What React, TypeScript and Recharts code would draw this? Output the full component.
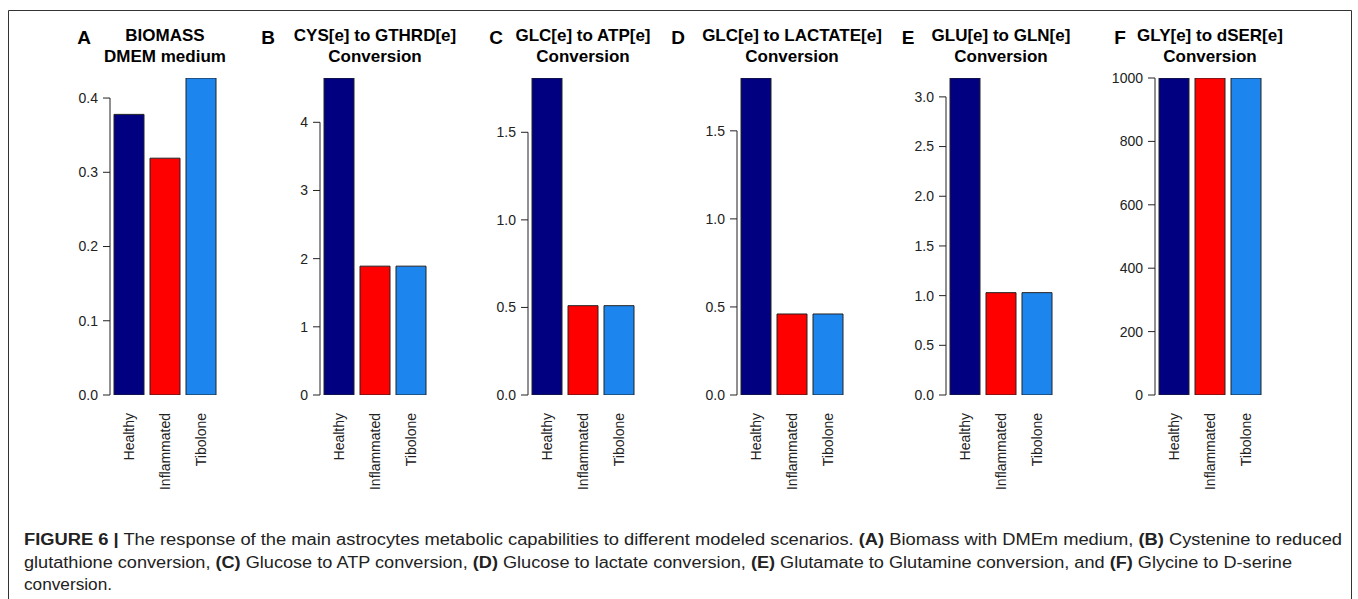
import { Bar, BarChart, Cell, XAxis, YAxis } from "recharts";

const categories = ["Healthy", "Inflammated", "Tibolone"];
const barColors = ["#000080", "#ff0000", "#1c86ee"];

const biomassValues = [0.378, 0.319, 0.427];
const cysToGthrdValues = [4.65, 1.89, 1.89];
const glcToAtpValues = [1.81, 0.51, 0.51];
const glcToLactateValues = [1.8, 0.46, 0.46];
const gluToGlnValues = [3.19, 1.03, 1.03];
const glyToDserValues = [1000, 1000, 1000];

const biomassTicks = [0, 0.1, 0.2, 0.3, 0.4];
const cysToGthrdTicks = [0, 1, 2, 3, 4];
const glcToAtpTicks = [0, 0.5, 1, 1.5];
const glcToLactateTicks = [0, 0.5, 1, 1.5];
const gluToGlnTicks = [0, 0.5, 1, 1.5, 2, 2.5, 3];
const glyToDserTicks = [0, 200, 400, 600, 800, 1000];

const panels = [
  { letter: "A", title: ["BIOMASS", "DMEM medium"], values: biomassValues, ticks: biomassTicks, decimals: 1 },
  { letter: "B", title: ["CYS[e] to GTHRD[e]", "Conversion"], values: cysToGthrdValues, ticks: cysToGthrdTicks, decimals: 0 },
  { letter: "C", title: ["GLC[e] to ATP[e]", "Conversion"], values: glcToAtpValues, ticks: glcToAtpTicks, decimals: 1 },
  { letter: "D", title: ["GLC[e] to LACTATE[e]", "Conversion"], values: glcToLactateValues, ticks: glcToLactateTicks, decimals: 1 },
  { letter: "E", title: ["GLU[e] to GLN[e]", "Conversion"], values: gluToGlnValues, ticks: gluToGlnTicks, decimals: 1 },
  { letter: "F", title: ["GLY[e] to dSER[e]", "Conversion"], values: glyToDserValues, ticks: glyToDserTicks, decimals: 0 },
];

const captionLines: [string, boolean][][] = [
  [
    ["FIGURE 6 |", true],
    [" The response of the main astrocytes metabolic capabilities to different modeled scenarios. ", false],
    ["(A)", true],
    [" Biomass with DMEm medium, ", false],
    ["(B)", true],
    [" Cystenine to reduced", false],
  ],
  [
    ["glutathione conversion, ", false],
    ["(C)", true],
    [" Glucose to ATP conversion, ", false],
    ["(D)", true],
    [" Glucose to lactate conversion, ", false],
    ["(E)", true],
    [" Glutamate to Glutamine conversion, and ", false],
    ["(F)", true],
    [" Glycine to D-serine", false],
  ],
  [["conversion.", false]],
];

// layout
const FONT = '"Liberation Sans", Arial, Helvetica, sans-serif';
const AXIS_X = [110, 320, 528, 737, 946, 1155];
const LETTER_X = [84, 268, 496, 678, 908, 1120];
const PLOT_TOP = 78;
const PLOT_H = 317;
const PLOT_W = 110;
const Y_AXIS_W = 60;
const X_AXIS_H = 110;
const CAPTION_Y = [545, 568, 590];
const CAPTION_W = [1318, 1268, 88];

function makeYTick(ticks: number[], max: number, decimals: number) {
  const last = ticks[ticks.length - 1];
  return (props: any) => {
    const { x, y, payload, index } = props;
    return (
      <g>
        <line x1={x - 7} x2={x} y1={y} y2={y} stroke="#222" strokeWidth={1} />
        {index === 0 && (
          <line x1={x} x2={x} y1={y} y2={y - (PLOT_H * last) / max} stroke="#222" strokeWidth={1} />
        )}
        <text x={x - 12} y={y} dy="0.35em" textAnchor="end" fontSize={14} fill="#222" fontFamily={FONT}>
          {Number(payload.value).toFixed(decimals)}
        </text>
      </g>
    );
  };
}

function XTick(props: any) {
  const { x, y, payload } = props;
  return (
    <text
      transform={`translate(${x},${y + 18}) rotate(-90)`}
      dy="0.35em"
      textAnchor="end"
      fontSize={14}
      fill="#222"
      fontFamily={FONT}
    >
      {payload.value}
    </text>
  );
}

function Panel({ index }: { index: number }) {
  const p = panels[index];
  const data = categories.map((name, i) => ({ name, value: p.values[i] }));
  const max = Math.max(...p.values);
  return (
    <div style={{ position: "absolute", left: AXIS_X[index] - Y_AXIS_W, top: 0 }}>
      <BarChart
        width={Y_AXIS_W + PLOT_W}
        height={PLOT_TOP + PLOT_H + X_AXIS_H}
        data={data}
        margin={{ top: PLOT_TOP, right: 0, bottom: 0, left: 0 }}
        barSize={30}
      >
        <XAxis
          dataKey="name"
          axisLine={false}
          tickLine={false}
          tickSize={0}
          tickMargin={0}
          height={X_AXIS_H}
          interval={0}
          padding={{ left: 1, right: 1 }}
          tick={<XTick />}
        />
        <YAxis
          type="number"
          domain={[0, max]}
          ticks={p.ticks}
          allowDataOverflow
          width={Y_AXIS_W}
          axisLine={false}
          tickLine={false}
          tickSize={0}
          tickMargin={0}
          interval={0}
          tick={makeYTick(p.ticks, max, p.decimals)}
        />
        <Bar dataKey="value" stroke="#222" strokeWidth={1} isAnimationActive={false}>
          {data.map((d, i) => (
            <Cell key={d.name} fill={barColors[i]} />
          ))}
        </Bar>
      </BarChart>
    </div>
  );
}

export default function App() {
  return (
    <div
      style={{
        position: "absolute",
        left: 0,
        top: 0,
        width: 1358,
        height: 599,
        background: "#fff",
        overflow: "hidden",
        fontFamily: FONT,
      }}
    >
      {panels.map((p, i) => (
        <Panel key={p.letter} index={i} />
      ))}
      <svg
        width={1358}
        height={599}
        style={{ position: "absolute", left: 0, top: 0, pointerEvents: "none" }}
      >
        <path d="M8.5,599 V10.5 H1351.5 V599" fill="none" stroke="#333" strokeWidth={1} />
        {panels.map((p, i) => {
          const cx = AXIS_X[i] + PLOT_W / 2;
          return (
            <g key={p.letter} fontFamily={FONT} fontWeight="bold" fill="#000">
              <text x={LETTER_X[i]} y={44} fontSize={19} textAnchor="middle">
                {p.letter}
              </text>
              <text x={cx} y={41} fontSize={17} textAnchor="middle">
                {p.title[0]}
              </text>
              <text x={cx} y={62} fontSize={17} textAnchor="middle">
                {p.title[1]}
              </text>
            </g>
          );
        })}
        {captionLines.map((line, li) => (
          <text
            key={li}
            x={24}
            y={CAPTION_Y[li]}
            fontSize={16}
            fill="#222"
            fontFamily={FONT}
            textLength={CAPTION_W[li]}
            lengthAdjust="spacingAndGlyphs"
          >
            {line.map(([t, b], si) => (
              <tspan key={si} fontWeight={b ? "bold" : "normal"} style={{ whiteSpace: "pre" }}>
                {t}
              </tspan>
            ))}
          </text>
        ))}
      </svg>
    </div>
  );
}
